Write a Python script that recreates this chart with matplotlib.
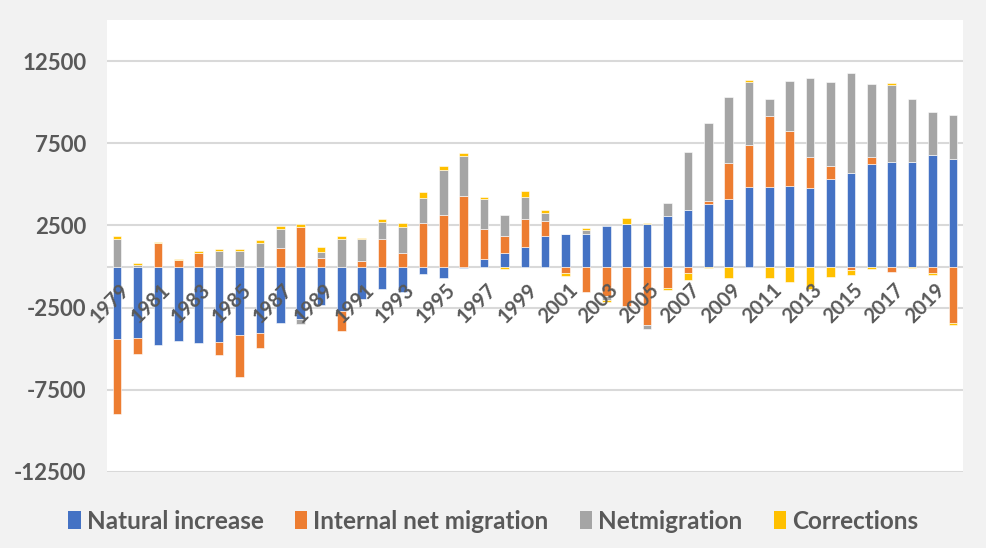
import matplotlib
matplotlib.use("Agg")
import matplotlib.pyplot as plt
import numpy as np
from matplotlib.patches import Patch

years = list(range(1979, 2021))
natural_increase = [-4400, -4370, -4750, -4510, -4630, -4590, -4160, -4060, -3450, -3210,
                    -2340, -2700, -1990, -1360, -1565, -445, -670, -80, 445, 810,
                    1180, 1830, 1950, 1970, 2440, 2600, 2580, 3050, 3410, 3800,
                    4100, 4810, 4850, 4910, 4750, 5340, 5705, 6230, 6355, 6355,
                    6780, 6515]
internal_net_migration = [-4570, -975, 1420, 400, 810, -790, -2540, -920, 1120, 2400,
                          550, -1200, 345, 1665, 810, 2640, 3150, 4320, 1850, 1055,
                          1705, 915, -405, -1565, -1770, -2400, -3555, -1320, -365, 160,
                          2190, 2560, 4325, 3350, 1910, 790, -200, 425, -325, 0,
                          -405, -3450]
netmigration = [1690, 100, 0, 0, 0, 935, 975, 1420, 1180, -285,
                365, 1665, 1320, 1075, 1585, 1520, 2740, 2435, 1805, 1280,
                1320, 510, 0, 225, -245, 0, -245, 810, 3530, 4770,
                4000, 3880, 1015, 3045, 4810, 5120, 6070, 4465, 4710, 3835,
                2620, 2720]
corrections = [180, 100, 100, 60, 120, 120, 80, 200, 140, 160,
               265, 220, 60, 140, 245, 345, 200, 180, 160, -120,
               405, 160, -200, 120, -120, 345, 60, -100, -445, -60,
               -710, 80, -710, -915, -1380, -650, -305, -160, 100, -100,
               -80, -100]

series = [
    ("Natural increase", natural_increase, "#4472C4"),
    ("Internal net migration", internal_net_migration, "#ED7D31"),
    ("Netmigration", netmigration, "#A5A5A5"),
    ("Corrections", corrections, "#FFC000"),
]
yticks = [-12500, -7500, -2500, 2500, 7500, 12500]

plt.rcParams['font.family'] = ['Lato', 'DejaVu Sans']
fig = plt.figure(figsize=(9.87, 5.48), dpi=100, facecolor="#F2F2F2")
ax = fig.add_axes([0.1084, 0.1387, 0.8673, 0.8248])
ax.set_facecolor("white")

x = np.arange(len(years))
pos_bottom = np.zeros(len(years))
neg_bottom = np.zeros(len(years))
for name, vals, color in series:
    v = np.array(vals, dtype=float)
    bottom = np.where(v >= 0, pos_bottom, neg_bottom)
    ax.bar(x, v, width=0.42, bottom=bottom, color=color, edgecolor="white",
           linewidth=0.4, zorder=3)
    pos_bottom += np.where(v >= 0, v, 0)
    neg_bottom += np.where(v < 0, v, 0)

ax.set_xlim(-0.5, len(years) - 0.5)
ax.set_ylim(-12500, 15000)
ax.set_yticks(yticks)
ax.set_yticklabels([str(t) for t in yticks])
for t in yticks:
    ax.axhline(t, color="#D9D9D9", linewidth=1.5, zorder=1)
ax.axhline(0, color="#D9D9D9", linewidth=1.5, zorder=2)

for s in ax.spines.values():
    s.set_visible(False)
ax.tick_params(axis="y", length=0, pad=15, labelsize=16, labelcolor="#595959")
for lab in ax.get_yticklabels():
    lab.set_fontweight("bold")
ax.set_xticks([])

for i, yr in enumerate(years):
    if (yr - 1979) % 2 == 0:
        ax.text(i + 0.1, -800, str(yr), rotation=45, ha="right", va="top",
                rotation_mode="anchor", fontsize=14.5, color="#595959",
                fontweight="bold", zorder=4)

handles = [Patch(facecolor=c, edgecolor="none", label=n) for n, _, c in series]
leg = fig.legend(handles=handles, loc="center", bbox_to_anchor=(0.5, 0.049),
                 ncol=4, frameon=False, fontsize=17.5, handlelength=0.5,
                 handleheight=0.75, handletextpad=0.25, columnspacing=1.3,
                 labelcolor="#595959")
for t in leg.get_texts():
    t.set_fontweight("bold")

fig.savefig("out.png", dpi=100, facecolor=fig.get_facecolor())
